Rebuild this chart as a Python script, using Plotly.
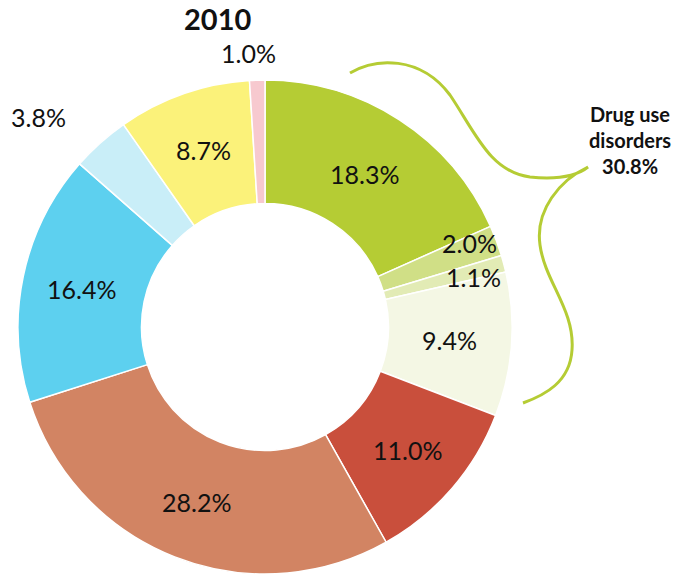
import math
import plotly.graph_objects as go

# Share of burden by cause group, 2010 (clockwise from 12 o'clock)
shares = [18.3, 2.0, 1.1, 9.4, 11.0, 28.2, 16.4, 3.8, 8.7, 1.0]
slice_colors = ["#b5cc34", "#d0df86", "#e2ebb5", "#f4f7e4", "#c94f3c",
                "#d28463", "#5dd0ef", "#c9eef8", "#fbf27a", "#f7c9cf"]
# radial position of each value label, as a fraction of the outer radius
label_radius = [0.74, 0.86, 0.88, 0.75, 0.76, 0.76, 0.76, 1.24, 0.76, 1.12]
label_nudge = [(0, 0), (5, -10), (-2, 6), (0, 0), (0, 0), (0, 0), (0, 0), (-22, 18), (0, 0), (-8, 3)]

title_text = "2010"
group_label = ["Drug use", "disorders", "30.8%"]

W, H = 678, 578
cx, cy, R = 265, 327, 247
HOLE = 0.5

fig = go.Figure(go.Pie(
    values=shares,
    marker=dict(colors=slice_colors, line=dict(color="white", width=1.5)),
    hole=HOLE,
    sort=False,
    direction="clockwise",
    rotation=0,
    textinfo="none",
    hoverinfo="skip",
    domain=dict(x=[(cx - R) / W, (cx + R) / W], y=[1 - (cy + R) / H, 1 - (cy - R) / H]),
    showlegend=False,
))

def px(x, y):
    return x / W, 1 - y / H

def note(x, y, text, size, **kw):
    ax, ay = px(x, y)
    return dict(x=ax, y=ay, xref="paper", yref="paper", xanchor="center", yanchor="middle",
                showarrow=False, text=text, font=dict(size=size, color="#111111"), **kw)

annotations = []
total = sum(shares)
acc = 0.0
for v, rf, (dx, dy) in zip(shares, label_radius, label_nudge):
    mid = (acc + v / 2) / total * 2 * math.pi
    acc += v
    x = cx + R * rf * math.sin(mid) + dx
    y = cy - R * rf * math.cos(mid) + dy
    annotations.append(note(x, y, f"{v:.1f}%", 25))

annotations.append(note(217, 19, f"<b>{title_text}</b>", 29))
annotations.append(note(630, 140, "<br>".join(f"<b>{t}</b>" for t in group_label), 20,
                        align="center"))

# curly brace grouping the drug-use slices
brace_pts = [
    ("M", [(350, 73)]),
    ("C", [(375, 58), (420, 55), (450, 95)]),
    ("C", [(475, 132), (490, 172), (530, 177)]),
    ("C", [(560, 180), (578, 175), (588, 167)]),
    ("C", [(560, 180), (535, 210), (540, 245)]),
    ("C", [(545, 282), (575, 310), (572, 350)]),
    ("C", [(570, 382), (545, 395), (523, 403)]),
]
path = " ".join(cmd + " " + " ".join("%.5f,%.5f" % px(x, y) for x, y in pts)
                for cmd, pts in brace_pts)

fig.update_layout(
    width=W, height=H,
    margin=dict(l=0, r=0, t=0, b=0),
    paper_bgcolor="white",
    font=dict(family="Lato, 'Open Sans', sans-serif"),
    annotations=annotations,
    shapes=[dict(type="path", path=path, xref="paper", yref="paper",
                 line=dict(color="#b5cc34", width=3))],
)

fig.write_html("out.html")
